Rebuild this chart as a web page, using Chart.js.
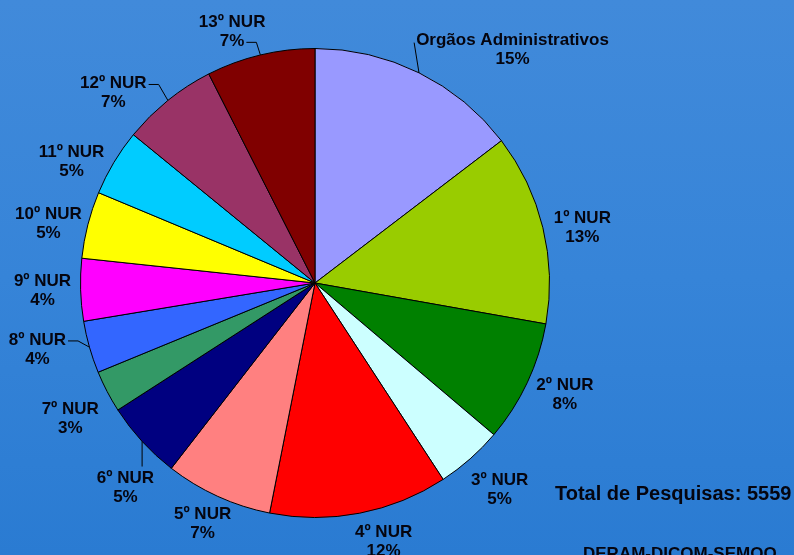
<!DOCTYPE html>
<html>
<head>
<meta charset="utf-8">
<script src="https://cdn.jsdelivr.net/npm/chart.js@4.4.1/dist/chart.umd.min.js"></script>
<style>
  html, body { margin: 0; padding: 0; }
  body { width: 794px; height: 555px; overflow: hidden;
         background: linear-gradient(180deg, #418ada 0%, #3684d8 50%, #2a7bd2 100%); }
  #wrap { position: relative; width: 794px; height: 555px; }
  canvas { display: block; }
</style>
</head>
<body>
<div id="wrap"><canvas id="c" width="794" height="555"></canvas></div>
<script>
// ---- data ----
const categories = ["Orgãos Administrativos", "1º NUR", "2º NUR", "3º NUR", "4º NUR", "5º NUR", "6º NUR",
                    "7º NUR", "8º NUR", "9º NUR", "10º NUR", "11º NUR", "12º NUR", "13º NUR"];
const pesquisas = [813, 732, 467, 256, 684, 411, 300, 161, 200, 239, 256, 256, 368, 416];
const totalLabel = "Total de Pesquisas: ";
const footerText = "DERAM-DICOM-SEMOQ";

// ---- styles / layout ----
const sliceColors = ["#9999FF", "#99CC00", "#008000", "#CCFFFF", "#FF0000", "#FF8080", "#000080",
                     "#339966", "#3366FF", "#FF00FF", "#FFFF00", "#00CCFF", "#993366", "#800000"];
const labelNudges = [[45, 4], [-1, 6.5], [0, -2.6], [2, 5.7], [16, -4.5], [2, -3.5], [14, 23],
                     [0, 11], [-12, -7.5], [3.5, -1], [5.5, 6], [-3, 15], [-25.5, 16.5], [-17.5, 7]];
const leaderLabels = new Set(["Orgãos Administrativos", "6º NUR", "8º NUR", "12º NUR", "13º NUR"]);

const labelFont = 'bold 17px "Liberation Sans", Arial, sans-serif';
const textColor = "#05050f";

const labelPlugin = {
  id: "pieLabels",
  afterDraw(chart) {
    const ctx = chart.ctx;
    const meta = chart.getDatasetMeta(0);
    const data = chart.data.datasets[0].data;
    const total = data.reduce((a, b) => a + b, 0);
    ctx.save();
    ctx.font = labelFont;
    ctx.fillStyle = textColor;
    ctx.strokeStyle = "#000";
    ctx.lineWidth = 1;
    ctx.textAlign = "center";
    ctx.textBaseline = "alphabetic";
    const lineGap = 19, capHalf = 6;
    meta.data.forEach((arc, i) => {
      const p = arc.getProps(["x", "y", "startAngle", "endAngle", "outerRadius"], true);
      const mid = (p.startAngle + p.endAngle) / 2;
      const dx = Math.cos(mid), dy = Math.sin(mid);
      const lines = [chart.data.labels[i], Math.round(data[i] / total * 100) + "%"];
      const widths = lines.map(t => ctx.measureText(t).width);
      const w = Math.max(...widths), h = lineGap * 2;
      const r = p.outerRadius + 13;
      const cx = p.x + dx * r + dx * w / 2 + labelNudges[i][0];
      const cy = p.y + dy * r + dy * h / 2 + labelNudges[i][1];
      const ys = [cy - lineGap / 2, cy + lineGap / 2];
      lines.forEach((t, k) => ctx.fillText(t, cx, ys[k] + capHalf));
      if (leaderLabels.has(chart.data.labels[i])) {
        const px = p.x + dx * p.outerRadius, py = p.y + dy * p.outerRadius;
        let best = null;
        lines.forEach((t, k) => {
          const x0 = cx - widths[k] / 2, x1 = cx + widths[k] / 2;
          const y0 = ys[k] - 7, y1 = ys[k] + 7;
          const nx = Math.min(Math.max(px, x0), x1), ny = Math.min(Math.max(py, y0), y1);
          const d = Math.hypot(px - nx, py - ny);
          if (!best || d < best.d) best = { d, nx, ny, x0, x1, y0, y1, yc: ys[k] };
        });
        ctx.beginPath();
        if (best.nx === best.x0 || best.nx === best.x1) {
          const s = best.nx === best.x1 ? 1 : -1;
          const qx = best.nx + s * 2;
          ctx.moveTo(qx, best.yc + 2);
          ctx.lineTo(qx + s * 10, best.yc + 2);
          ctx.lineTo(px, py);
        } else if (Math.abs(best.nx - best.x0) < 8) {
          ctx.moveTo(best.x0 - 2, best.yc + 4);
          ctx.lineTo(px, py);
        } else if (Math.abs(best.nx - best.x1) < 8) {
          ctx.moveTo(best.x1 + 2, best.yc + 4);
          ctx.lineTo(px, py);
        } else {
          const s = best.ny === best.y1 ? 1 : -1;
          ctx.moveTo(best.nx, best.ny + s * 3);
          ctx.lineTo(px, py);
        }
        ctx.stroke();
      }
    });
    // total text
    ctx.textAlign = "left";
    ctx.font = 'bold 20px "Liberation Sans", Arial, sans-serif';
    ctx.fillText(totalLabel + total, 555, 500);
    ctx.font = 'bold 17px "Liberation Sans", Arial, sans-serif';
    ctx.fillText(footerText, 583, 559);
    ctx.restore();
  }
};

new Chart(document.getElementById("c"), {
  type: "pie",
  data: {
    labels: categories,
    datasets: [{
      data: pesquisas,
      backgroundColor: sliceColors,
      borderColor: "#000",
      borderWidth: 1
    }]
  },
  options: {
    responsive: false,
    animation: false,
    layout: { padding: { top: 48, bottom: 37, left: 80, right: 244 } },
    plugins: { legend: { display: false }, tooltip: { enabled: false } }
  },
  plugins: [labelPlugin]
});
</script>
</body>
</html>
